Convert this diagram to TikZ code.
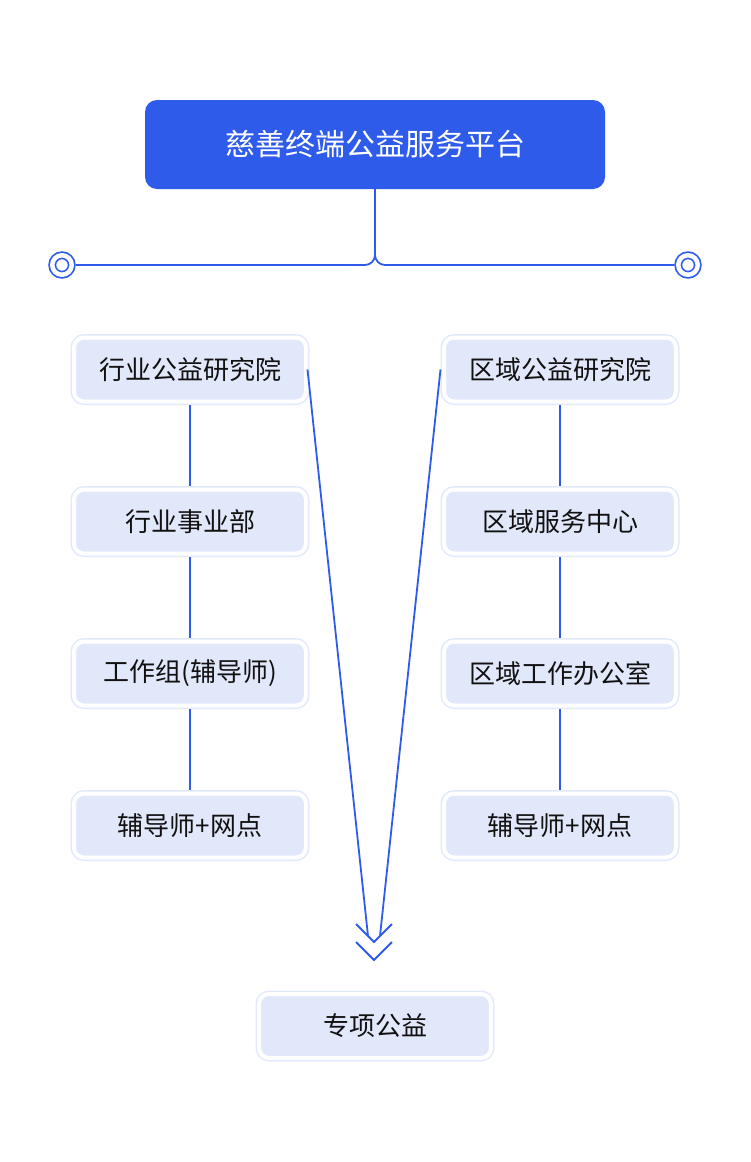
\documentclass[tikz,border=0pt]{standalone}
\usepackage{fontspec}
\setmainfont{Noto Sans CJK SC}
\usepackage{tikz}
\definecolor{mainblue}{HTML}{2E5BEA}
\definecolor{boxfill}{HTML}{E1E8FA}
\definecolor{boxline}{HTML}{E2E9FB}
\definecolor{textdark}{HTML}{111111}

\begin{document}
\begin{tikzpicture}[x=1pt, y=-1pt,
    unit/.style={draw=boxline, double=white, double distance=4pt, line width=1.5pt,
        fill=boxfill, rounded corners=10pt, minimum width=232pt, minimum height=64pt,
        inner sep=0pt, outer sep=3.5pt, text=textdark, font=\fontsize{26pt}{30pt}\selectfont},
    link/.style={draw=mainblue, line width=1.8pt},
    ring/.style={circle, draw=mainblue, double=white, double distance=4.5pt, line width=1.7pt,
        minimum size=19.5pt, inner sep=0pt, outer sep=4pt}]
    \useasboundingbox (0,0) rectangle (750,1162);

    % Platform
    \node[fill=mainblue, rounded corners=12pt, minimum width=460pt, minimum height=89pt,
        text=white, font=\fontsize{30pt}{34pt}\selectfont] (platform) at (375,144.5) {慈善终端公益服务平台};
    \node[ring] (ringL) at (62,265) {};
    \node[ring] (ringR) at (688,265) {};
    \draw[link, rounded corners=10pt] (platform.south) |- (ringL.east);
    \draw[link, rounded corners=10pt] (platform.south) |- (ringR.west);

    % Left column
    \node[unit] (l1) at (190,369.5) {行业公益研究院};
    \node[unit] (l2) at (190,521.5) {行业事业部};
    \node[unit] (l3) at (190,673.5) {工作组(辅导师)};
    \node[unit] (l4) at (190,825.5) {辅导师+网点};
    \draw[link] (l1) -- (l2);
    \draw[link] (l2) -- (l3);
    \draw[link] (l3) -- (l4);

    % Right column
    \node[unit] (r1) at (560,369.5) {区域公益研究院};
    \node[unit] (r2) at (560,521.5) {区域服务中心};
    \node[unit] (r3) at (560,673.5) {区域工作办公室};
    \node[unit] (r4) at (560,825.5) {辅导师+网点};
    \draw[link] (r1) -- (r2);
    \draw[link] (r2) -- (r3);
    \draw[link] (r3) -- (r4);

    % Merge into special projects
    \coordinate (tipL) at (368,936);
    \coordinate (tipR) at (380,936);
    \draw[link] ([xshift=-2pt]l1.east) -- (tipL);
    \draw[link] (r1.west) -- (tipR);
    \draw[link] (356,924) -- (374,942) -- (392,924);
    \draw[link] (356,942) -- (374,960) -- (392,942);
    \node[unit] (special) at (375,1026) {专项公益};
\end{tikzpicture}
\end{document}
